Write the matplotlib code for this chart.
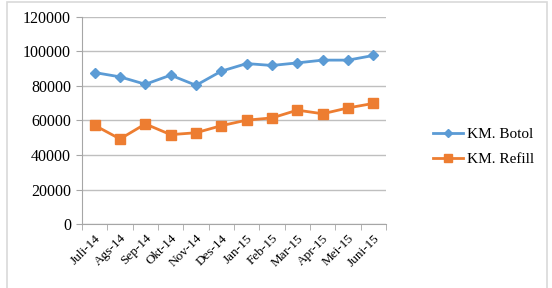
import numpy as np
import matplotlib.pyplot as plt
from matplotlib.patches import Rectangle

plt.rcParams['font.family'] = ['Liberation Serif', 'DejaVu Serif']

months = ["Juli-14", "Ags-14", "Sep-14", "Okt-14", "Nov-14", "Des-14",
          "Jan-15", "Feb-15", "Mar-15", "Apr-15", "Mei-15", "Juni-15"]
botol = [87800, 85300, 81000, 86300, 80400, 88600, 93000, 91900, 93400, 95000, 95000, 97700]
refill = [57200, 49300, 58000, 51800, 52900, 57000, 60200, 61500, 66000, 63900, 67300, 69900]

fig = plt.figure(figsize=(5.52, 2.88), dpi=100)
fig.patches.append(Rectangle((7 / 552, -0.02), 540 / 552, 1.013, transform=fig.transFigure,
                             fill=False, edgecolor="#d9d9d9", linewidth=1.2))

ax = fig.add_axes([82 / 552, 64 / 288, 304 / 552, 207 / 288])
x = np.arange(len(months))
ax.plot(x, botol, color="#5B9BD5", marker="D", markersize=5, linewidth=2, label="KM. Botol")
ax.plot(x, refill, color="#ED7D31", marker="s", markersize=6.5, linewidth=2, label="KM. Refill")

ax.set_xlim(-0.5, len(months) - 0.5)
ax.set_ylim(0, 120000)
ax.set_yticks(np.arange(0, 120001, 20000))
ax.set_xticks(x)
ax.set_xticklabels(months, rotation=45, ha="right", rotation_mode="anchor", fontsize=9.5)
ax.set_xticks(np.arange(-0.5, len(months), 1), minor=True)
ax.tick_params(axis="x", which="major", length=0, pad=6)
ax.tick_params(axis="x", which="minor", length=4, color="#a6a6a6")
ax.tick_params(axis="y", length=4, color="#a6a6a6", labelsize=11.5, pad=4)
ax.grid(axis="y", color="#bfbfbf", linewidth=1)
ax.set_axisbelow(True)
for s in ["top", "right"]:
    ax.spines[s].set_visible(False)
for s in ["left", "bottom"]:
    ax.spines[s].set_color("#a6a6a6")

h, l = ax.get_legend_handles_labels()
fig.legend(h, l, loc="center left", bbox_to_anchor=(419 / 552, 1 - 147 / 288), frameon=False,
           fontsize=11, handlelength=2.0, handletextpad=0.25, labelspacing=0.75, markerscale=0.9)

fig.savefig("out.png", dpi=100)
